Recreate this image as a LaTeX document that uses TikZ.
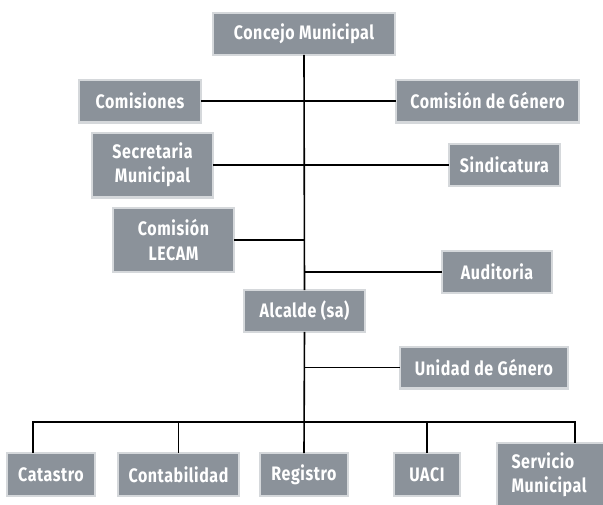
\documentclass[tikz,border=0pt]{standalone}
\usepackage{fontspec}
\setmainfont{Fira Sans}[FakeStretch=0.82, LetterSpace=3]
\definecolor{boxfill}{HTML}{8B929A}
\definecolor{boxedge}{HTML}{D5D8DB}
\begin{document}
\begin{tikzpicture}[x=1pt,y=-1pt,
  orgbox/.style={draw=boxedge, line width=2.4pt, fill=boxfill, text=white,
    font=\fontsize{19.5}{24.5}\selectfont\bfseries, align=center, inner sep=0pt,
    outer sep=0pt, minimum width=#1-2.4pt},
  orgbox/.default=123,
  hbox/.style={minimum height=41.6pt},
  tbox/.style={minimum height=63.6pt},
  link/.style={draw=black, line width=1.6pt}]
\useasboundingbox (0,0) rectangle (603,504);
\clip (0,0) rectangle (603,504);
% nodes
\node[orgbox=184, hbox] (concejo) at (304,34) {Concejo Municipal};
\node[orgbox=124, hbox, minimum height=42.6pt] (comisiones) at (140,101) {Comisiones};
\node[orgbox=185, hbox, minimum height=42.6pt] (cgenero) at (487.5,101) {Comisión de Género};
\node[orgbox=123, tbox, minimum height=64.6pt] (secretaria) at (152.5,165) {Secretaria\\Municipal};
\node[orgbox=113, hbox] (sindicatura) at (504.5,165) {Sindicatura};
\node[orgbox=123, tbox] (lecam) at (173.5,240) {Comisión\\LECAM};
\node[orgbox=112, hbox] (auditoria) at (497,272) {Auditoria};
\node[orgbox=123, hbox] (alcalde) at (304.5,311) {Alcalde (sa)};
\node[orgbox=170, hbox] (ugenero) at (484,367.5) {Unidad de Género};
\node[orgbox=90, hbox, minimum height=42.6pt] (catastro) at (51,474.5) {Catastro};
\node[orgbox=123, hbox, minimum height=42.6pt] (contabilidad) at (178.5,474.5) {Contabilidad};
\node[orgbox=90, hbox, minimum height=42.6pt] (registro) at (304,474.5) {Registro};
\node[orgbox=68, hbox, minimum height=42.6pt] (uaci) at (427,474.5) {UACI};
\node[orgbox=123, tbox, align=left, text width=92pt] (servicio) at (557.5,475) {Servicio\\Municipal};
\coordinate (bus) at (304,422);
% connectors
\path[link] (concejo.south) -- (alcalde.north);
\path[link] (alcalde.south) -- (registro.north);
\path[link] (comisiones.east) -- (cgenero.west);
\path[link] (secretaria.east) -- (sindicatura.west);
\path[link] (lecam.east) -- (lecam.east -| concejo.south);
\path[link] (auditoria.west) -- (auditoria.west -| concejo.south);
\path[link] (ugenero.west) -- (ugenero.west -| alcalde.south);
\path[link] ([xshift=-18pt]catastro.north) |- (bus) -| ([xshift=17.5pt]servicio.north);
\path[link] (contabilidad.north) -- (contabilidad.north |- bus);
\path[link] (uaci.north) -- (uaci.north |- bus);
\end{tikzpicture}
\end{document}
